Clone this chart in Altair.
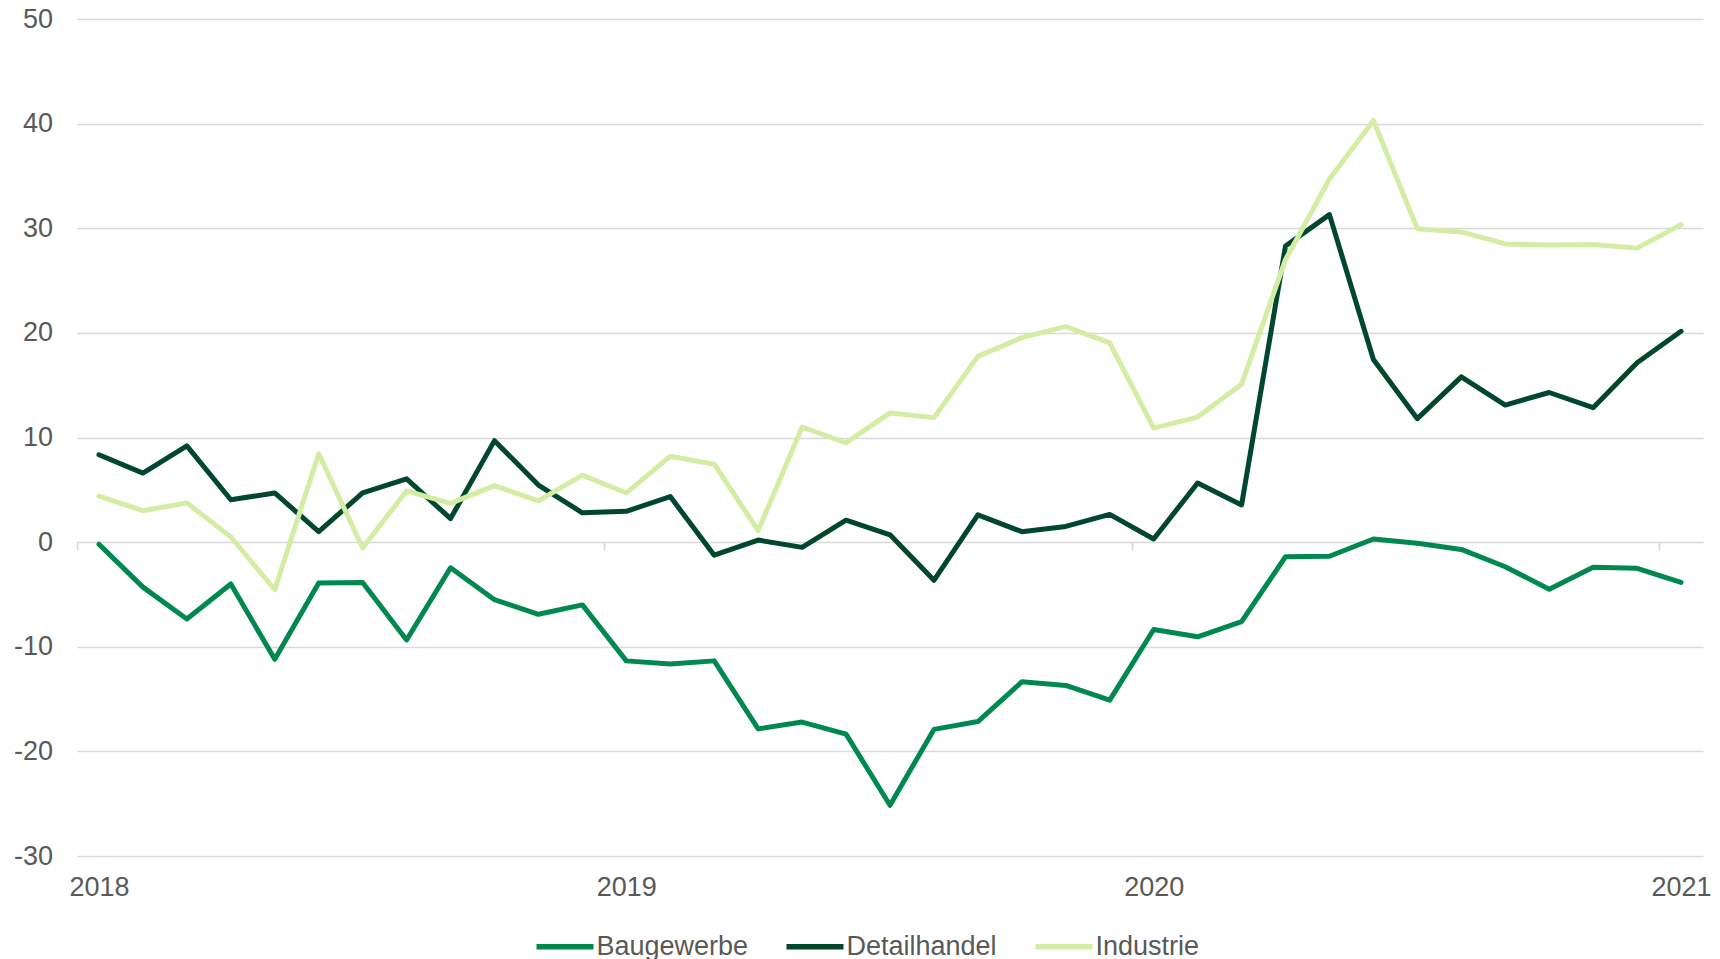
import altair as alt
import pandas as pd

# --- data (monthly, Jan 2018 .. Jan 2021) ---
years = ["2018", "2019", "2020", "2021"]
series_names = ["Baugewerbe", "Detailhandel", "Industrie"]
series_colors = ["#00894f", "#00472b", "#d3eda4"]

baugewerbe = [-0.2, -4.3, -7.35, -4.0, -11.2, -3.9, -3.85, -9.35, -2.45, -5.5,
              -6.9, -6.0, -11.35, -11.65, -11.35, -17.85, -17.2, -18.35, -25.15, -17.9,
              -17.15, -13.35, -13.7, -15.1, -8.35, -9.05, -7.6, -1.4, -1.35, 0.3,
              -0.1, -0.7, -2.35, -4.5, -2.4, -2.5, -3.85]
detailhandel = [8.35, 6.6, 9.2, 4.05, 4.7, 1.0, 4.7, 6.05, 2.25, 9.7,
                5.45, 2.8, 2.95, 4.35, -1.25, 0.2, -0.5, 2.1, 0.7, -3.65,
                2.6, 1.0, 1.5, 2.65, 0.3, 5.65, 3.55, 28.3, 31.3, 17.45,
                11.8, 15.8, 13.1, 14.3, 12.85, 17.15, 20.15]
industrie = [4.4, 3.0, 3.75, 0.5, -4.55, 8.45, -0.55, 4.9, 3.7, 5.4,
             3.95, 6.4, 4.7, 8.2, 7.45, 1.1, 11.0, 9.5, 12.35, 11.9,
             17.75, 19.55, 20.6, 19.05, 10.9, 11.95, 15.1, 27.0, 34.7, 40.3,
             29.95, 29.65, 28.5, 28.4, 28.45, 28.1, 30.35]

n = len(baugewerbe)
rows = []
for name, vals in zip(series_names, [baugewerbe, detailhandel, industrie]):
    for i, v in enumerate(vals):
        rows.append({"idx": i, "serie": name, "value": v})
df = pd.DataFrame(rows)

label_vals = [12 * k for k in range(len(years))]
tick_vals = [12 * k - 0.5 for k in range(len(years))]
year_js = "[" + ",".join(f"'{y}'" for y in years) + "]"

FONT = "Liberation Sans"
GRAY = "#595959"
GRID = "#d9d9d9"
FS = 27
W, H = 1626, 837

xscale = alt.Scale(domain=[-0.5, n - 0.5], nice=False, zero=False)
yscale = alt.Scale(domain=[-30, 50], nice=False, zero=False)

lines = alt.Chart(df).mark_line(strokeWidth=5, strokeJoin="round", strokeCap="round").encode(
    x=alt.X("idx:Q", scale=xscale,
            axis=alt.Axis(values=label_vals, labelExpr=f"{year_js}[datum.value/12]",
                          ticks=False, tickSize=0, domain=False, grid=False,
                          labelFontSize=FS, labelColor=GRAY, labelFont=FONT,
                          labelPadding=18, labelFlush=False, labelOverlap=False,
                          title=None, orient="bottom")),
    y=alt.Y("value:Q", scale=yscale,
            axis=alt.Axis(values=list(range(-30, 51, 10)), labelExpr="toString(datum.value)",
                          grid=True, gridColor=GRID,
                          gridWidth=1.6, domain=False, ticks=False, tickSize=0,
                          labelPadding=24.5, labelFontSize=FS, labelColor=GRAY,
                          labelFont=FONT, title=None)),
    color=alt.Color("serie:N", scale=alt.Scale(domain=series_names, range=series_colors),
                    legend=alt.Legend(title=None, orient="none", direction="horizontal",
                                      columns=3, legendX=456.5, legendY=896,
                                      symbolType="stroke", symbolSize=3249,
                                      symbolStrokeWidth=5.5, labelOffset=0,
                                      columnPadding=27, padding=0,
                                      labelFontSize=FS, labelColor=GRAY, labelFont=FONT)),
    order=alt.Order("idx:Q"),
)

zero_px = H * 50 / 80
ticks_layer = alt.Chart(df).mark_point(opacity=0).encode(
    x=alt.X("idx:Q", scale=xscale,
            axis=alt.Axis(values=tick_vals, labels=False, ticks=True, tickSize=8,
                          tickColor=GRID, tickWidth=1.6, domain=False, grid=False,
                          offset=zero_px - H, orient="bottom", title=None)),
)

chart = alt.layer(lines, ticks_layer).resolve_axis(x="independent").properties(
    width=W, height=H,
    autosize=alt.AutoSizeParams(type="none"),
    padding={"left": 69, "top": 11, "right": 8, "bottom": 103},
).configure(background="white").configure_view(stroke="transparent", strokeWidth=0)

chart.save("out.html", embed_options={"renderer": "svg", "actions": False})
